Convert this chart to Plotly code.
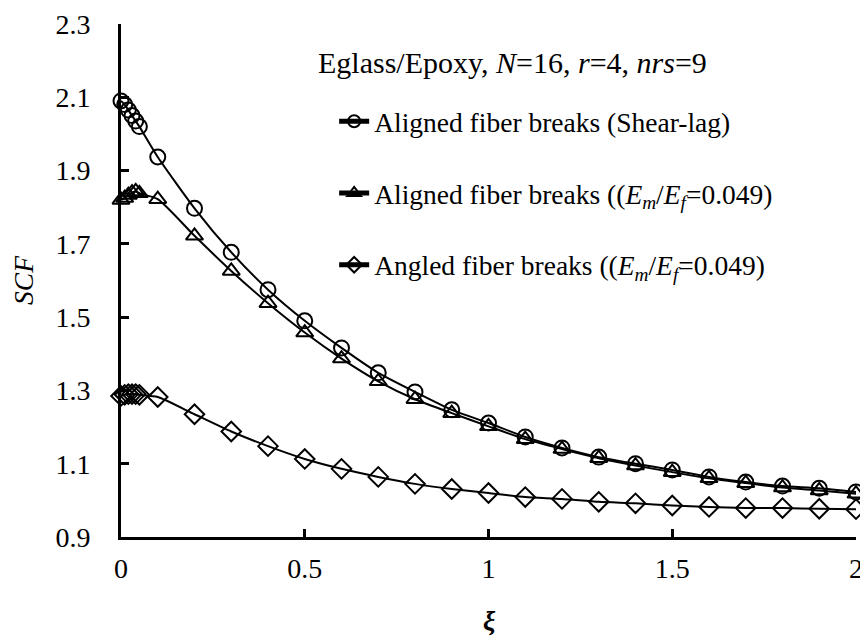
import plotly.graph_objects as go

xi = [0, 0.01, 0.02, 0.03, 0.04, 0.05, 0.1, 0.2, 0.3, 0.4, 0.5, 0.6, 0.7, 0.8, 0.9, 1.0,
      1.1, 1.2, 1.3, 1.4, 1.5, 1.6, 1.7, 1.8, 1.9, 2.0]

scf_shear_lag = [2.09, 2.08, 2.065, 2.05, 2.035, 2.02, 1.937, 1.797, 1.677, 1.575, 1.49, 1.416,
                 1.348, 1.296, 1.247, 1.211, 1.173, 1.143, 1.118, 1.10, 1.083, 1.064, 1.05,
                 1.039, 1.033, 1.023]
scf_aligned = [1.82, 1.825, 1.833, 1.84, 1.843, 1.838, 1.822, 1.722, 1.626, 1.538, 1.458, 1.387,
               1.325, 1.276, 1.238, 1.202, 1.167, 1.14, 1.115, 1.095, 1.077, 1.06, 1.047,
               1.035, 1.027, 1.018]
scf_angled = [1.285, 1.288, 1.29, 1.29, 1.29, 1.288, 1.282, 1.235, 1.188, 1.148, 1.113, 1.086,
              1.064, 1.045, 1.031, 1.02, 1.009, 1.004, 0.996, 0.992, 0.986, 0.982, 0.979,
              0.979, 0.977, 0.976]

names = [
    "Aligned fiber breaks (Shear-lag)",
    "Aligned fiber breaks ((<i>E<sub>m</sub></i>/<i>E<sub>f</sub></i>=0.049)",
    "Angled fiber breaks ((<i>E<sub>m</sub></i>/<i>E<sub>f</sub></i>=0.049)",
]
symbols = ["circle-open", "triangle-up-open", "diamond-open"]
series = [scf_shear_lag, scf_aligned, scf_angled]

x_ticks = [0, 0.5, 1, 1.5, 2]
x_tick_labels = ["0", "0.5", "1", "1.5", "2"]
y_ticks = [0.9, 1.1, 1.3, 1.5, 1.7, 1.9, 2.1, 2.3]
y_tick_labels = ["0.9", "1.1", "1.3", "1.5", "1.7", "1.9", "2.1", "2.3"]

FONT = "Liberation Serif"
FS = 27.5

fig = go.Figure()
for i, (ys, nm, sym) in enumerate(zip(series, names, symbols)):
    fig.add_trace(go.Scatter(
        x=xi, y=ys, name=nm, mode="lines+markers",
        line=dict(color="black", width=2, shape="spline", smoothing=0.6),
        marker=dict(symbol=sym, size=15, color="black", line=dict(width=2, color="black")),
        cliponaxis=False, legendgroup=f"g{i}",
    ))

# page body has an 8px default margin: figure is 860x628 placed at (8, 8)
fig.update_layout(
    width=860, height=628,
    margin=dict(l=113, r=12, t=16, b=99, autoexpand=False),
    paper_bgcolor="white", plot_bgcolor="white",
    font=dict(family=FONT, size=FS, color="black"),
    showlegend=True,
    legend=dict(x=0.29, y=0.858, xanchor="left", yanchor="top", itemsizing="constant",
                bgcolor="rgba(0,0,0,0)", tracegroupgap=33,
                font=dict(family=FONT, size=FS, color="black")),
    annotations=[
        dict(text="Eglass/Epoxy, <i>N</i>=16, <i>r</i>=4, <i>nrs</i>=9",
             xref="paper", yref="paper", x=0.532, y=0.924, xanchor="center", yanchor="middle",
             showarrow=False, font=dict(family=FONT, size=30, color="black")),
        dict(text="<b><i>ξ</i></b>",
             xref="paper", yref="paper", x=0.502, y=-0.162, xanchor="center", yanchor="middle",
             showarrow=False, font=dict(family=FONT, size=FS, color="black")),
    ],
)
fig.update_xaxes(
    range=[0, 2], tickvals=x_ticks, ticktext=x_tick_labels,
    showline=True, linecolor="black", linewidth=3, ticks="inside", ticklen=8, tickwidth=3,
    tickcolor="black", showgrid=False, zeroline=False, ticklabelstandoff=4,
    automargin=False,
    tickfont=dict(family=FONT, size=28, color="black"),
)
fig.update_yaxes(
    range=[0.9, 2.3], tickvals=y_ticks, ticktext=y_tick_labels,
    showline=True, linecolor="black", linewidth=3, ticks="inside", ticklen=8, tickwidth=3,
    tickcolor="black", showgrid=False, zeroline=False, ticklabelstandoff=22,
    automargin=False,
    tickfont=dict(family=FONT, size=28, color="black"),
    title=dict(text="<i>SCF</i>", standoff=14, font=dict(family=FONT, size=FS, color="black")),
)

fig.write_html("out.html")
